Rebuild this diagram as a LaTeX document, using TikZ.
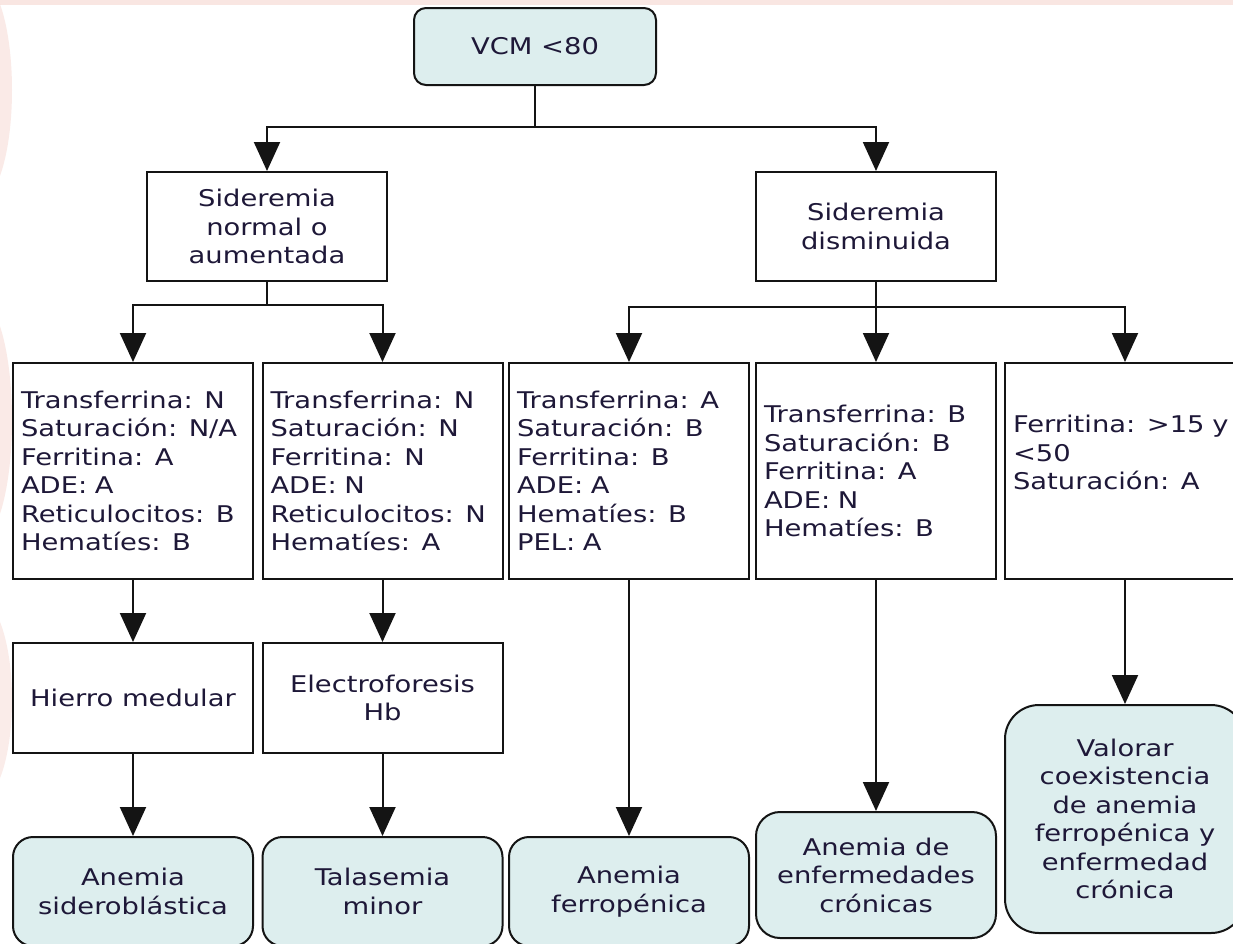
\documentclass[tikz,border=0pt]{standalone}
\usepackage{fontspec}
\setmainfont{DejaVu Sans}[FakeStretch=1.19]
\usetikzlibrary{arrows.meta}
\definecolor{boxfill}{RGB}{221,238,238}
\definecolor{txt}{RGB}{30,24,56}
\definecolor{linec}{RGB}{20,20,20}
\definecolor{wm}{RGB}{246,214,208}
\tikzset{
  base/.style={draw=linec, line width=2pt, text=txt, inner sep=0pt},
  rbox/.style={base, fill=boxfill, align=center},
  sqbox/.style={base, fill=white, align=center},
  listbox/.style={base, fill=white, text width=224pt, align=left, inner xsep=8pt, minimum height=216pt},
  conn/.style={draw=linec, line width=2pt},
  arr/.style={conn, -{Triangle[width=26pt,length=29pt]}},
}
\begin{document}
\begin{tikzpicture}[x=1pt,y=-1pt, font=\fontsize{23}{28.5}\selectfont]
\useasboundingbox (0,0) rectangle (1233,943);
\clip (0,0) rectangle (1233,943);
\fill[white] (0,0) rectangle (1233,943);
% faint watermark along the edges
\fill[wm, opacity=0.6] (0,0) rectangle (1233,5);
\fill[wm, opacity=0.5] (-20,90) ellipse (32pt and 110pt);
\fill[wm, opacity=0.5] (-20,420) ellipse (32pt and 120pt);
\fill[wm, opacity=0.45] (-20,700) ellipse (32pt and 100pt);

% top
\node[rbox, rounded corners=12pt, minimum width=242pt, minimum height=77pt] (vcm) at (535,46.5) {VCM <80};

% second level
\node[sqbox, minimum width=240pt, minimum height=109pt] (s1) at (267,226.5) {Sideremia\\normal o\\aumentada};
\node[sqbox, minimum width=240pt, minimum height=109pt] (s2) at (876,226.5) {Sideremia\\disminuida};

% third level
\node[listbox] (l1) at (133,471) {Transferrina: N\\Saturación: N/A\\Ferritina: A\\ADE: A\\Reticulocitos: B\\Hematíes: B};
\node[listbox] (l2) at (382.5,471) {Transferrina: N\\Saturación: N\\Ferritina: N\\ADE: N\\Reticulocitos: N\\Hematíes: A};
\node[listbox] (l3) at (629,471) {Transferrina: A\\Saturación: B\\Ferritina: B\\ADE: A\\Hematíes: B\\PEL: A};
\node[listbox] (l4) at (876,471) {Transferrina: B\\Saturación: B\\Ferritina: A\\ADE: N\\Hematíes: B};
\node[listbox] (l5) at (1125,471) {Ferritina: >15 y\\<50\\Saturación: A\\\strut};

% fourth level
\node[sqbox, minimum width=240pt, minimum height=110pt] (h1) at (133,698) {Hierro medular};
\node[sqbox, minimum width=240pt, minimum height=110pt] (h2) at (382.5,698) {Electroforesis\\Hb};

% results
\node[rbox, rounded corners=20pt, minimum width=240pt, minimum height=109pt] (r1) at (133,891.5) {Anemia\\sideroblástica};
\node[rbox, rounded corners=20pt, minimum width=240pt, minimum height=109pt] (r2) at (382.5,891.5) {Talasemia\\minor};
\node[rbox, rounded corners=20pt, minimum width=240pt, minimum height=109pt] (r3) at (629,891.5) {Anemia\\ferropénica};
\node[rbox, rounded corners=24pt, minimum width=240pt, minimum height=126pt] (r4) at (876,875) {Anemia de\\enfermedades\\crónicas};
\node[rbox, rounded corners=34pt, minimum width=240pt, minimum height=228pt] (r5) at (1125,819) {Valorar\\coexistencia\\de anemia\\ferropénica y\\enfermedad\\crónica};

% connectors
\coordinate (b0) at (535,127);
\draw[conn] (vcm.south) -- (b0);
\draw[arr] (b0) -| (s1.north);
\draw[arr] (b0) -| (s2.north);

\coordinate (b1) at (267,305);
\draw[conn] (s1.south) -- (b1);
\draw[arr] (b1) -| (l1.north);
\draw[arr] (b1) -| (l2.north);

\coordinate (b2) at (876,307);
\draw[arr] (s2.south) -- (l4.north);
\draw[arr] (b2) -| (l3.north);
\draw[arr] (b2) -| (l5.north);

\draw[arr] (l1.south) -- (h1.north);
\draw[arr] (l2.south) -- (h2.north);
\draw[arr] (h1.south) -- (r1.north);
\draw[arr] (h2.south) -- (r2.north);
\draw[arr] (l3.south) -- (r3.north);
\draw[arr] (l4.south) -- (r4.north);
\draw[arr] (l5.south) -- (r5.north);
\end{tikzpicture}
\end{document}
